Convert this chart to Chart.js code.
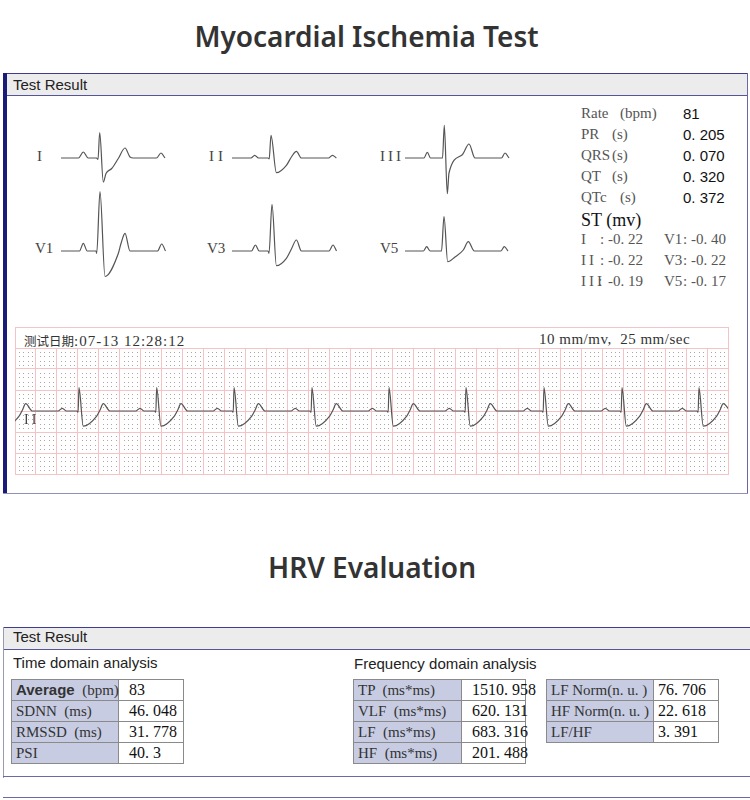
<!DOCTYPE html>
<html>
<head>
<meta charset="utf-8">
<script src="https://cdn.jsdelivr.net/npm/chart.js@4.4.1/dist/chart.umd.min.js"></script>
<style>
  body { margin: 0; width: 750px; height: 800px; background: #fff; position: relative; overflow: hidden; }
  .abs { position: absolute; }
  .title { left: 0; font-family: 'Noto Sans', sans-serif; font-weight: 600; font-size: 28px; color: #333; text-align: center; }
  .hdr { font-family: 'Liberation Sans', Arial, sans-serif; font-size: 15px; color: #222; }
  .serif { font-family: 'Liberation Serif', 'Noto Sans CJK SC', serif; }
  .lbl { font-size: 15px; color: #555; white-space: pre; }
  .val { font-family: 'Liberation Sans', sans-serif; font-size: 15px; color: #111; }
  canvas { position: absolute; }
  table.t { position: absolute; border-collapse: collapse; table-layout: fixed; }
  table.t td { border: 1px solid #8a8a8a; height: 20px; padding: 0 0 0 4px; font-family: 'Liberation Serif', serif; font-size: 15px; line-height: 20px; white-space: pre; overflow: visible; }
  table.t td.k { background: #c7cce2; color: #333; }
  table.t td.v { background: #fff; color: #111; font-size: 16px; }
</style>
</head>
<body>

<!-- data -->
<script>
// single-beat lead traces: [time ms, amplitude mV]
const leadI   = [[0,0],[175,0],[223,0.12],[272,0],[355,0],[370,-0.03],[387,0.51],[423,-0.48],[450,-0.31],[507,-0.21],[573,-0.01],[640,0.20],[690,0.02],[723,0],[955,0],[1000,0.10],[1040,0]];
const leadII  = [[0,0],[190,0],[227,0.054],[265,0],[360,0],[372,-0.02],[390,0.454],[444,-0.294],[544,-0.146],[594,0.02],[644,0.134],[694,0],[965,0],[1004,0.054],[1044,0]];
const leadIII = [[0,0],[190,0],[223,0.114],[255,0],[375,0],[393,0.654],[423,-0.714],[440,-0.30],[573,0.066],[640,0.28],[700,0],[965,0],[1000,0.10],[1040,0]];
const leadV1  = [[0,0],[185,0],[223,0.154],[262,0],[350,0],[357,-0.046],[390,1.186],[440,-0.51],[573,-0.05],[600,0.15],[640,0.354],[690,0],[965,0],[1007,0.14],[1045,0]];
const leadV3  = [[0,0],[195,0],[234,0.12],[272,0],[360,0],[370,-0.046],[400,0.934],[444,-0.294],[544,-0.146],[594,0.04],[644,0.22],[694,0],[970,0],[1010,0.12],[1045,0]];
const leadV5  = [[0,0],[185,0],[217,0.086],[250,0],[365,0],[390,0.686],[427,-0.214],[500,-0.12],[583,0.02],[633,0.186],[693,0],[960,0],[993,0.086],[1030,0]];

// rhythm strip (lead II): beat shape relative to R peak, and R peak times (ms)
const stripBeat = [[-200,0],[-159,0.064],[-119,0],[-20,0],[-8,-0.03],[0,0.556],[41,-0.36],[169,-0.12],[200,0.02],[232,0.175],[296,0]];
const stripRPeaks = [-130, 610, 1351, 2089, 2832, 3567, 4301, 5045, 5789, 6523];

const measureNames  = ['Rate', 'PR', 'QRS', 'QT', 'QTc'];
const measureUnits  = ['(bpm)', '(s)', '(s)', '(s)', '(s)'];
const measureValues = ['81', '0. 205', '0. 070', '0. 320', '0. 372'];

const stNames  = ['I', 'V1', 'II', 'V3', 'III', 'V5'];
const stValues = ['-0. 22', '-0. 40', '-0. 22', '-0. 22', '-0. 19', '-0. 17'];

const timeNames  = ['Average', 'SDNN', 'RMSSD', 'PSI'];
const timeUnits  = ['(bpm)', '(ms)', '(ms)', ''];
const timeValues = ['83', '46. 048', '31. 778', '40. 3'];

const freqNames  = ['TP', 'VLF', 'LF', 'HF'];
const freqUnits  = ['(ms*ms)', '(ms*ms)', '(ms*ms)', '(ms*ms)'];
const freqValues = ['1510. 958', '620. 131', '683. 316', '201. 488'];

const ratioNames  = ['LF Norm(n. u. )', 'HF Norm(n. u. )', 'LF/HF'];
const ratioValues = ['76. 706', '22. 618', '3. 391'];
</script>

<div class="abs title" style="top:17px;width:733px;">Myocardial Ischemia Test</div>

<!-- panel 1 frame -->
<div class="abs" style="left:3px;top:73px;width:745px;height:1px;background:#3c3c90;"></div>
<div class="abs" style="left:7px;top:74px;width:740px;height:21px;background:#ececec;"></div>
<div class="abs" style="left:7px;top:95px;width:740px;height:1px;background:#55559a;"></div>
<div class="abs" style="left:3px;top:73px;width:4px;height:421px;background:#1a1a78;"></div>
<div class="abs" style="left:747px;top:73px;width:1px;height:421px;background:#6868a8;"></div>
<div class="abs" style="left:3px;top:493px;width:745px;height:1px;background:#9090b8;"></div>
<div class="abs hdr" style="left:13px;top:76px;">Test Result</div>

<!-- lead labels -->
<div class="abs serif lbl" style="left:37px;top:148px;color:#444;">I</div>
<div class="abs serif lbl" style="left:209px;top:148px;color:#444;letter-spacing:4px;">II</div>
<div class="abs serif lbl" style="left:380px;top:148px;color:#444;letter-spacing:3px;">III</div>
<div class="abs serif lbl" style="left:35px;top:240px;color:#444;">V1</div>
<div class="abs serif lbl" style="left:207px;top:240px;color:#444;">V3</div>
<div class="abs serif lbl" style="left:380px;top:240px;color:#444;">V5</div>

<canvas id="cI"   width="110" height="130" style="left:58px;top:93px;"></canvas>
<canvas id="cII"  width="110" height="130" style="left:229px;top:93px;"></canvas>
<canvas id="cIII" width="110" height="130" style="left:402px;top:93px;"></canvas>
<canvas id="cV1"  width="110" height="130" style="left:58px;top:186px;"></canvas>
<canvas id="cV3"  width="110" height="130" style="left:229px;top:186px;"></canvas>
<canvas id="cV5"  width="110" height="130" style="left:402px;top:186px;"></canvas>

<div id="measures"></div>
<div class="abs serif" style="left:581px;top:210px;font-size:18px;color:#111;">ST (mv)</div>
<div id="st"></div>

<!-- rhythm strip -->
<div class="abs" style="left:15px;top:327px;width:712px;height:146px;border:1px solid #f2c4c7;"></div>
<div class="abs serif" style="left:24px;top:331px;font-size:15px;color:#333;letter-spacing:1px;white-space:pre;"><span style="font-family:'Noto Sans CJK SC';font-size:12.5px;letter-spacing:0;">测试日期</span>:07-13 12:28:12</div>
<div class="abs serif" style="left:539px;top:331px;font-size:15px;color:#333;letter-spacing:0.5px;white-space:pre;">10 mm/mv,  25 mm/sec</div>
<canvas id="strip" width="715" height="128" style="left:14px;top:347px;"></canvas>
<div class="abs serif" style="left:24px;top:412px;font-size:14px;color:#444;letter-spacing:3px;">II</div>

<div class="abs title" style="top:548px;width:744px;">HRV Evaluation</div>

<!-- panel 2 frame -->
<div class="abs" style="left:3px;top:627px;width:747px;height:1px;background:#3c3c90;"></div>
<div class="abs" style="left:4px;top:628px;width:746px;height:21px;background:#ececec;"></div>
<div class="abs" style="left:4px;top:649px;width:746px;height:1px;background:#55559a;"></div>
<div class="abs" style="left:3px;top:627px;width:1px;height:151px;background:#9a9ab0;"></div>
<div class="abs" style="left:3px;top:776px;width:747px;height:1px;background:#6a6aaa;"></div>
<div class="abs" style="left:3px;top:797px;width:747px;height:1px;background:#6a6aaa;"></div>
<div class="abs hdr" style="left:13px;top:628px;">Test Result</div>
<div class="abs hdr" style="left:13px;top:654px;">Time domain analysis</div>
<div class="abs hdr" style="left:354px;top:655px;">Frequency domain analysis</div>

<table class="t" id="tTime"  style="left:11px;top:679px;"></table>
<table class="t" id="tFreq"  style="left:353px;top:679px;"></table>
<table class="t" id="tRatio" style="left:546px;top:679px;"></table>

<script>
// measurement text
const mBox = document.getElementById('measures');
const unitX = [620, 612, 612, 612, 620];
measureNames.forEach((n, i) => {
  const top = 105 + i * 21;
  mBox.insertAdjacentHTML('beforeend',
    `<div class="abs serif lbl" style="left:581px;top:${top}px;">${n}</div>` +
    `<div class="abs serif lbl" style="left:${unitX[i]}px;top:${top}px;">${measureUnits[i]}</div>` +
    `<div class="abs val" style="left:683px;top:${top}px;">${measureValues[i]}</div>`);
});
const stBox = document.getElementById('st');
for (let r = 0; r < 3; r++) {
  const top = 231 + r * 21;
  [0, 1].forEach(c => {
    const k = r * 2 + c, x = c ? 664 : 581;
    const roman = /^I+$/.test(stNames[k]);
    stBox.insertAdjacentHTML('beforeend',
      `<div class="abs serif lbl" style="left:${x}px;top:${top}px;letter-spacing:${roman ? 3 : 0}px;">${stNames[k]}</div>` +
      `<div class="abs serif lbl" style="left:${x + (stNames[k] === 'III' ? 17 : 19)}px;top:${top}px;">:</div>` +
      `<div class="abs serif lbl" style="left:${x + 27}px;top:${top}px;">${stValues[k]}</div>`);
  });
}

// tables
function fillTable(id, names, units, values, w1, w2, pad2) {
  const t = document.getElementById(id);
  t.style.width = (w1 + w2) + 'px';
  t.insertAdjacentHTML('beforeend', `<colgroup><col style="width:${w1}px"><col style="width:${w2}px"></colgroup>`);
  names.forEach((n, i) => {
    const name = id === 'tTime' && i === 0
      ? `<span style="font-family:'Liberation Sans',sans-serif;font-weight:bold;color:#333;">${n}</span>`
      : n;
    const unit = units && units[i] ? '  ' + units[i] : '';
    t.insertAdjacentHTML('beforeend',
      `<tr><td class="k">${name}${unit}</td><td class="v" style="padding-left:${pad2}px">${values[i]}</td></tr>`);
  });
}
fillTable('tTime', timeNames, timeUnits, timeValues, 107, 65, 10);
fillTable('tFreq', freqNames, freqUnits, freqValues, 108, 64, 10);
fillTable('tRatio', ratioNames, null, ratioValues, 107, 65, 4);

// lead charts
function leadChart(id, pts) {
  new Chart(document.getElementById(id), {
    type: 'line',
    data: {
      datasets: [{
        data: pts.map(p => ({ x: p[0], y: p[1] })),
        borderColor: '#555',
        borderWidth: 1.2,
        pointRadius: 0,
        cubicInterpolationMode: 'monotone'
      }]
    },
    options: {
      responsive: false,
      animation: false,
      events: [],
      plugins: { legend: { display: false }, tooltip: { enabled: false } },
      scales: {
        x: { type: 'linear', display: false, min: -30, max: 1070 },
        y: { display: false, min: -1.3, max: 1.3 }
      }
    }
  });
}
leadChart('cI', leadI);
leadChart('cII', leadII);
leadChart('cIII', leadIII);
leadChart('cV1', leadV1);
leadChart('cV3', leadV3);
leadChart('cV5', leadV5);

// rhythm strip
const stripPoints = [];
stripRPeaks.forEach(r => stripBeat.forEach(([t, v]) => stripPoints.push({ x: r + t, y: v })));

const dotGrid = {
  id: 'dotGrid',
  beforeDatasetsDraw(chart) {
    const { ctx, scales: { x, y } } = chart;
    ctx.save();
    ctx.fillStyle = '#a8a8a8';
    for (let t = 40; t < 6800; t += 40) {
      if (t % 200 === 0) continue;
      const px = Math.round(x.getPixelForValue(t));
      for (let k = -14; k <= 14; k++) {
        if (k % 5 === 0) continue;
        const py = Math.round(y.getPixelForValue(k / 10));
        ctx.fillRect(px, py, 1, 1);
      }
    }
    ctx.restore();
  }
};

new Chart(document.getElementById('strip'), {
  type: 'line',
  data: {
    datasets: [{
      data: stripPoints,
      borderColor: '#555',
      borderWidth: 1.2,
      pointRadius: 0,
      cubicInterpolationMode: 'monotone'
    }]
  },
  options: {
    responsive: false,
    animation: false,
    events: [],
    layout: { padding: 1 },
    plugins: { legend: { display: false }, tooltip: { enabled: false } },
    scales: {
      x: {
        type: 'linear', min: 0, max: 6800,
        ticks: { display: false, stepSize: 200 },
        grid: { color: '#f3c3c6', drawTicks: false },
        border: { display: false }
      },
      y: {
        min: -1.5, max: 1.5,
        ticks: { display: false, stepSize: 0.5 },
        grid: { color: '#f3c3c6', drawTicks: false },
        border: { display: false }
      }
    }
  },
  plugins: [dotGrid]
});
</script>
</body>
</html>
